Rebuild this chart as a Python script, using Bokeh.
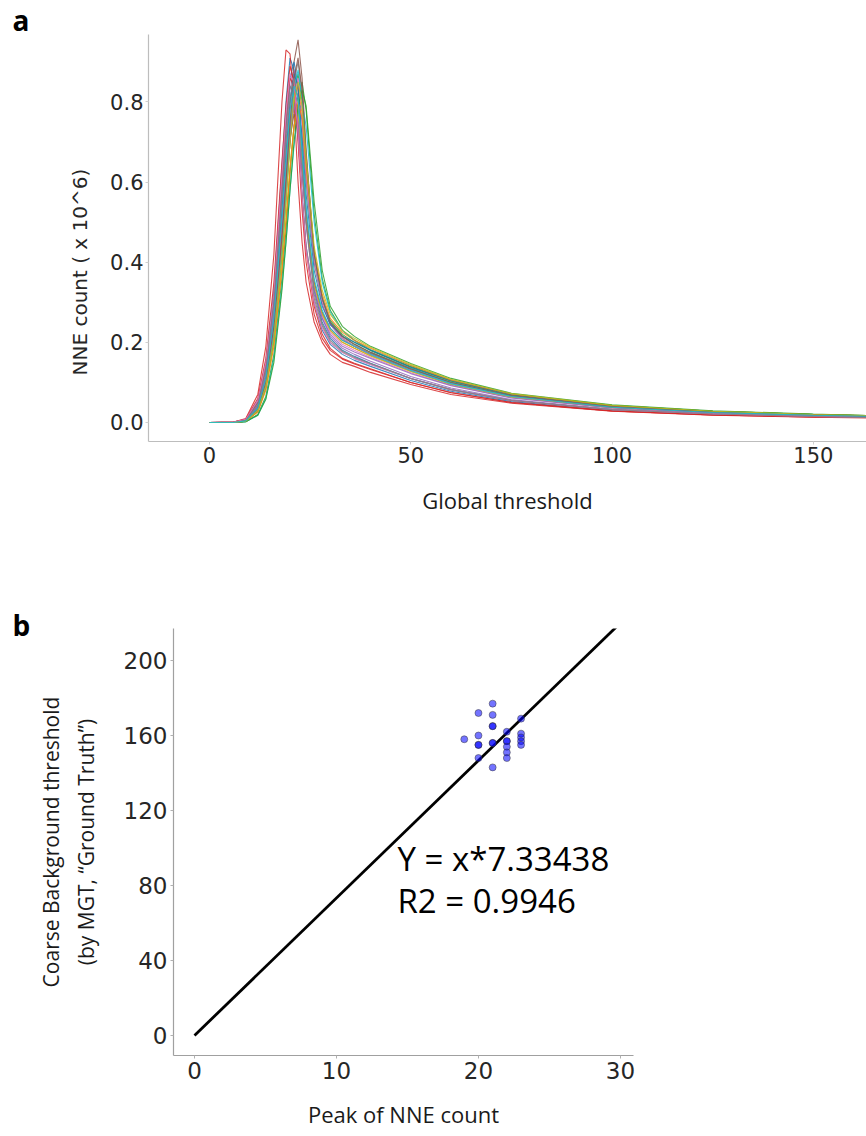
import math
from bokeh.plotting import figure
from bokeh.models import Range1d, FixedTicker, NumeralTickFormatter, Label, Title
from bokeh.embed import file_html
from bokeh.resources import INLINE

# ---------------- data: panel a ----------------
threshold = [0, 6, 9, 12, 14, 16, 18, 19, 20, 21, 22, 23, 24, 26, 28, 30, 33, 36, 40, 50, 60, 75, 100, 125, 150, 165]

curve_01 = [0, .001, .008, .055, .15, .33, .64, .80, .91, .88, .74, .57, .44, .30, .23, .195, .17, .155, .14, .105, .078, .052, .03, .02, .015, .012]
curve_02 = [0, 0, .004, .036, .11, .26, .50, .63, .75, .80, .76, .63, .50, .35, .27, .23, .20, .185, .167, .128, .096, .064, .037, .025, .018, .015]
curve_03 = [0, 0, .002, .02, .065, .17, .36, .48, .62, .74, .82, .85, .78, .52, .36, .28, .23, .205, .18, .14, .105, .07, .042, .028, .02, .017]
curve_04 = [0, .001, .01, .07, .19, .42, .80, .93, .92, .80, .60, .45, .35, .25, .20, .17, .15, .14, .125, .095, .07, .048, .028, .018, .013, .011]
curve_05 = [0, 0, .005, .042, .125, .29, .56, .71, .83, .88, .83, .68, .53, .34, .26, .215, .185, .17, .153, .115, .086, .057, .033, .022, .016, .013]
curve_06 = [0, 0, .004, .035, .10, .24, .47, .62, .78, .90, .955, .86, .68, .42, .30, .245, .21, .19, .17, .13, .097, .065, .038, .025, .018, .015]
curve_07 = [0, 0, .006, .045, .13, .30, .55, .68, .79, .83, .78, .65, .51, .34, .265, .225, .195, .18, .163, .124, .093, .062, .036, .024, .017, .014]
curve_08 = [0, 0, .004, .033, .10, .23, .45, .59, .74, .85, .90, .82, .66, .41, .30, .245, .21, .19, .17, .13, .097, .065, .038, .025, .018, .015]
curve_09 = [0, 0, .003, .028, .085, .20, .39, .51, .64, .74, .78, .72, .60, .40, .30, .25, .215, .195, .175, .135, .10, .068, .04, .027, .02, .016]
curve_10 = [0, 0, .002, .018, .06, .16, .34, .45, .58, .69, .77, .80, .74, .50, .35, .275, .23, .205, .182, .142, .106, .071, .043, .028, .02, .017]
curve_11 = [0, 0, .006, .05, .14, .32, .59, .74, .86, .90, .84, .68, .52, .33, .25, .21, .18, .165, .148, .11, .082, .055, .032, .021, .016, .013]
curve_12 = [0, 0, .004, .032, .095, .22, .43, .56, .70, .80, .84, .77, .63, .41, .305, .25, .215, .195, .175, .134, .10, .067, .04, .026, .019, .016]
curve_13 = [0, 0, .003, .028, .088, .21, .42, .56, .70, .82, .87, .80, .65, .42, .31, .255, .22, .20, .18, .138, .103, .069, .041, .027, .02, .016]
curve_14 = [0, .001, .007, .05, .14, .31, .60, .75, .86, .84, .72, .56, .43, .29, .22, .185, .16, .148, .134, .10, .075, .05, .029, .019, .014, .012]
curve_15 = [0, 0, .004, .034, .10, .23, .44, .57, .70, .79, .82, .75, .61, .40, .30, .245, .21, .19, .17, .13, .097, .065, .038, .025, .018, .015]
curve_16 = [0, 0, .003, .03, .10, .24, .47, .60, .71, .77, .74, .63, .51, .35, .275, .235, .205, .19, .172, .132, .10, .067, .039, .026, .019, .016]
curve_17 = [0, 0, .004, .034, .10, .23, .45, .58, .72, .82, .86, .78, .63, .41, .30, .245, .21, .19, .17, .13, .097, .065, .038, .025, .018, .015]
curve_18 = [0, .001, .007, .05, .14, .31, .59, .74, .84, .82, .71, .56, .44, .31, .24, .20, .175, .16, .145, .11, .082, .055, .032, .021, .016, .013]
curve_19 = [0, 0, .004, .035, .11, .26, .51, .64, .76, .81, .77, .64, .51, .345, .27, .23, .20, .185, .166, .127, .095, .063, .037, .025, .018, .015]
curve_20 = [0, 0, .003, .03, .09, .22, .43, .57, .72, .83, .88, .81, .66, .42, .31, .25, .215, .195, .175, .135, .10, .067, .04, .026, .019, .016]
curve_21 = [0, 0, .004, .038, .115, .27, .53, .67, .80, .87, .84, .71, .57, .38, .29, .245, .215, .20, .18, .138, .104, .07, .041, .027, .02, .016]
curve_22 = [0, 0, .003, .026, .08, .19, .38, .50, .63, .74, .80, .76, .64, .43, .32, .26, .225, .205, .185, .142, .106, .071, .042, .028, .02, .017]
curve_23 = [0, 0, .002, .018, .058, .15, .33, .45, .58, .70, .79, .83, .79, .55, .38, .29, .24, .215, .19, .147, .11, .073, .044, .029, .021, .017]
curve_24 = [0, .001, .008, .06, .16, .35, .65, .79, .89, .85, .70, .53, .40, .27, .21, .18, .158, .146, .132, .10, .074, .05, .029, .019, .014, .012]
curve_25 = [0, 0, .005, .04, .12, .27, .50, .63, .74, .79, .75, .62, .49, .33, .26, .22, .19, .176, .16, .122, .092, .061, .036, .024, .017, .014]
curve_26 = [0, 0, .004, .034, .10, .24, .46, .60, .75, .86, .91, .83, .67, .42, .31, .25, .215, .195, .175, .134, .10, .067, .039, .026, .019, .015]
curve_27 = [0, .001, .008, .055, .15, .32, .62, .77, .87, .85, .72, .56, .43, .30, .235, .20, .175, .16, .145, .11, .082, .055, .032, .021, .015, .012]
curve_28 = [0, 0, .005, .044, .13, .30, .56, .70, .81, .86, .81, .66, .50, .32, .245, .205, .178, .163, .147, .11, .082, .055, .032, .021, .015, .012]
curve_29 = [0, 0, .003, .03, .09, .21, .42, .55, .70, .81, .85, .79, .66, .44, .33, .27, .23, .21, .188, .145, .108, .072, .043, .028, .02, .017]
curve_30 = [0, 0, .004, .036, .11, .26, .51, .65, .78, .84, .81, .68, .54, .36, .28, .235, .205, .19, .17, .13, .097, .065, .038, .025, .018, .015]

curves = [curve_01, curve_02, curve_03, curve_04, curve_05, curve_06, curve_07, curve_08, curve_09, curve_10,
          curve_11, curve_12, curve_13, curve_14, curve_15, curve_16, curve_17, curve_18, curve_19, curve_20,
          curve_21, curve_22, curve_23, curve_24, curve_25, curve_26, curve_27, curve_28, curve_29, curve_30]

a_xticks = [0, 50, 100, 150]
a_yticks = [0.0, 0.2, 0.4, 0.6, 0.8]

# ---------------- data: panel b ----------------
peak_nne = [19, 20, 20, 20, 20, 20, 21, 21, 21, 21, 21, 21, 21, 22, 22, 22, 22, 22, 22, 23, 23, 23, 23, 23]
mgt_threshold = [158, 172, 160, 155, 155, 148, 177, 171, 165, 165, 156, 156, 143, 162, 157, 157, 154, 151, 148, 169, 161, 159, 157, 155]
fit_slope = 7.33438
fit_r2 = 0.9946
fit_x = [0, 30]

b_xticks = [0, 10, 20, 30]
b_yticks = [0, 40, 80, 120, 160, 200]

TAB10 = ['#1f77b4', '#ff7f0e', '#2ca02c', '#d62728', '#9467bd',
         '#8c564b', '#e377c2', '#7f7f7f', '#bcbd22', '#17becf']

# ---------------- panel a ----------------
XA = (-15.15, 163.2)
YA = (-0.0475, 0.9685)
A_L, A_R, A_T, A_B = 148, 866, 34, 441
A_H = 560

pa = figure(width=866, height=A_H, output_backend="svg", toolbar_location=None, title=None,
            x_range=Range1d(*XA), y_range=Range1d(*YA),
            min_border_left=A_L, min_border_right=866 - A_R,
            min_border_top=A_T, min_border_bottom=A_H - A_B)

for i, c in enumerate(curves):
    pa.line(threshold, c, line_color=TAB10[i % 10], line_width=1.1, line_alpha=0.85)

pa.xgrid.visible = False
pa.ygrid.visible = False
pa.outline_line_color = None
for axis in (pa.xaxis[0], pa.yaxis[0]):
    axis.axis_line_color = "#bdbdbd"
    axis.axis_line_width = 1.2
    axis.major_tick_line_color = "#d0d0d0"
    axis.major_tick_out = 3
    axis.major_tick_in = 0
    axis.minor_tick_line_color = None
    axis.major_label_text_font = "DejaVu Sans"
    axis.major_label_text_font_size = "21px"
    axis.major_label_text_color = "#262626"
pa.xaxis.ticker = FixedTicker(ticks=a_xticks)
pa.yaxis.ticker = FixedTicker(ticks=a_yticks)
pa.yaxis.formatter = NumeralTickFormatter(format="0.0")
pa.xaxis.major_label_standoff = 2
pa.yaxis.major_label_standoff = 2

pa.xaxis.axis_label = "Global threshold"
pa.xaxis.axis_label_text_font = "Open Sans"
pa.xaxis.axis_label_text_font_style = "normal"
pa.xaxis.axis_label_text_font_size = "22px"
pa.xaxis.axis_label_text_color = "#1a1a1a"
pa.xaxis.axis_label_standoff = 19

pa.add_layout(Title(text="NNE count ( x 10^6)", align="left", offset=66, vertical_align="middle",
                    standoff=30, text_font="DejaVu Sans", text_font_style="normal",
                    text_font_size="20px", text_color="#262626"), "left")
pa.add_layout(Title(text="a", align="left", offset=12 - A_L, vertical_align="bottom", standoff=-8,
                    text_font="Open Sans", text_font_style="bold", text_font_size="28px",
                    text_color="black"), "above")

# ---------------- panel b ----------------
B_OFF = A_H
B_H = 1136 - A_H
XB = (-1.48, 30.92)
YB = (-10.67, 217.07)
B_L, B_R, B_T, B_B = 173, 633, 628, 1055

def bx(X):
    return XB[0] + (X - B_L) * (XB[1] - XB[0]) / (B_R - B_L)

def by(Y):
    return YB[0] + (B_B - Y) * (YB[1] - YB[0]) / (B_B - B_T)

pb = figure(width=866, height=B_H, output_backend="svg", toolbar_location=None, title=None,
            x_range=Range1d(*XB), y_range=Range1d(*YB),
            min_border_left=B_L, min_border_right=866 - B_R,
            min_border_top=B_T - B_OFF, min_border_bottom=1136 - B_B)

fit_y = [fit_slope * v for v in fit_x]
pb.line(fit_x, fit_y, line_color="black", line_width=2.8)
pb.scatter(peak_nne, mgt_threshold, size=7, fill_color="#0000ff", fill_alpha=0.55,
           line_color="#333333", line_alpha=0.6, line_width=0.8)

pb.xgrid.visible = False
pb.ygrid.visible = False
pb.outline_line_color = None
for axis in (pb.xaxis[0], pb.yaxis[0]):
    axis.axis_line_color = "#a0a0a0"
    axis.axis_line_width = 1.2
    axis.major_tick_line_color = "#b0b0b0"
    axis.major_tick_out = 3
    axis.major_tick_in = 0
    axis.minor_tick_line_color = None
    axis.major_label_text_font = "DejaVu Sans"
    axis.major_label_text_font_size = "23px"
    axis.major_label_text_color = "#262626"
    axis.axis_label_text_font = "Open Sans"
    axis.axis_label_text_font_style = "normal"
    axis.axis_label_text_color = "#1a1a1a"
pb.xaxis.ticker = FixedTicker(ticks=b_xticks)
pb.yaxis.ticker = FixedTicker(ticks=b_yticks)
pb.xaxis.major_label_standoff = 3
pb.yaxis.major_label_standoff = 3

pb.xaxis.axis_label = "Peak of NNE count"
pb.xaxis.axis_label_text_font_size = "22px"
pb.xaxis.axis_label_standoff = 17
pb.yaxis.axis_label = "Coarse Background threshold\n(by MGT, \u201cGround Truth\u201d)"
pb.yaxis.axis_label_text_font_size = "21px"
pb.yaxis.axis_label_text_line_height = 1.25
pb.yaxis.axis_label_standoff = 21

pb.add_layout(Title(text="b", align="left", offset=12 - B_L, vertical_align="bottom", standoff=-30,
                    text_font="Open Sans", text_font_style="bold", text_font_size="28px",
                    text_color="black"), "above")

pb.add_layout(Label(x=bx(397), y=by(858), text=f"Y = x*{fit_slope}", text_font="Open Sans",
                    text_font_size="33px", text_color="black", text_align="left", text_baseline="middle"))
pb.add_layout(Label(x=bx(397), y=by(900), text=f"R2 = {fit_r2}", text_font="Open Sans",
                    text_font_size="33px", text_color="black", text_align="left", text_baseline="middle"))

open("out.html", "w").write(file_html([pa, pb], INLINE))
